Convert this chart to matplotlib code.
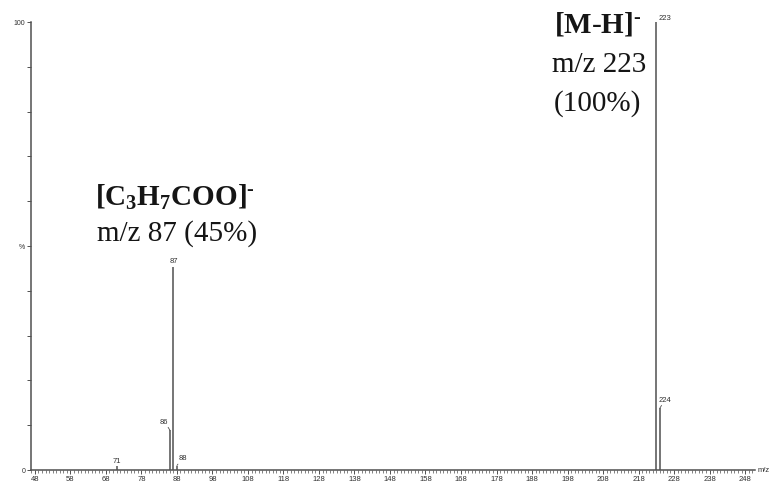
import matplotlib
matplotlib.use("Agg")
import matplotlib.pyplot as plt
from matplotlib.ticker import MultipleLocator, FixedLocator

# ---- data ----
mz = [71, 86, 87, 88, 223, 224]
intensity = [0.8, 8.9, 45.3, 1.0, 100.0, 13.8]
peak_labels = ["71", "86", "87", "88", "223", "224"]
x_ticks = [48, 58, 68, 78, 88, 98, 108, 118, 128, 138, 148, 158, 168, 178,
           188, 198, 208, 218, 228, 238, 248]
y_tick_pos = [0, 50, 100]
y_tick_labels = ["0", "%", "100"]

plt.rcParams['font.family'] = ['Liberation Sans', 'DejaVu Sans']
plt.rcParams['mathtext.fontset'] = 'custom'
plt.rcParams['mathtext.rm'] = 'Liberation Serif'
plt.rcParams['mathtext.bf'] = 'Liberation Serif:bold'
plt.rcParams['mathtext.it'] = 'Liberation Serif:italic'

fig = plt.figure(figsize=(7.7, 4.85), dpi=100)
ax = fig.add_axes([31 / 770, 14 / 485, 724 / 770, 448 / 485])

col = '#505050'
txtcol = '#303030'
ax.vlines(mz, 0, intensity, color=col, linewidth=1.1)

ax.set_xlim(46.9, 250.8)
ax.set_ylim(0, 100)

for s in ['top', 'right']:
    ax.spines[s].set_visible(False)
for s in ['left', 'bottom']:
    ax.spines[s].set_color(col)
    ax.spines[s].set_linewidth(1.1)

ax.xaxis.set_major_locator(FixedLocator(x_ticks))
ax.set_xticklabels([str(t) for t in x_ticks])
ax.xaxis.set_minor_locator(MultipleLocator(1))
ax.tick_params(axis='x', which='major', length=3, width=0.7, colors=col,
               labelsize=5.5, pad=0.8, labelcolor=txtcol)
ax.tick_params(axis='x', which='minor', length=1.8, width=0.5, colors=col)

ax.yaxis.set_major_locator(FixedLocator(y_tick_pos))
ax.set_yticklabels(y_tick_labels)
ax.yaxis.set_minor_locator(MultipleLocator(10))
ax.tick_params(axis='y', which='major', length=3, width=0.7, colors=col,
               labelsize=5, pad=1, labelcolor=txtcol)
ax.tick_params(axis='y', which='minor', length=3, width=0.7, colors=col)

ax.text(1.004, 0.0, "m/z", transform=ax.transAxes, fontsize=5.5,
        color=txtcol, ha='left', va='center')

# peak labels
lab_kw = dict(fontsize=5.5, color=txtcol, annotation_clip=False)
offsets = {
    "71": ((0, 1.5), 'center', None),
    "86": ((-4, 4), 'center', True),
    "87": ((0, 2), 'center', None),
    "88": ((4, 3), 'center', True),
    "223": ((1.5, 1), 'left', None),
    "224": ((4, 4), 'center', True),
}
for x, y, lab in zip(mz, intensity, peak_labels):
    off, ha, leader = offsets[lab]
    ap = dict(arrowstyle='-', color=col, lw=0.6, shrinkA=0, shrinkB=0) if leader else None
    ax.annotate(lab, xy=(x, y), xytext=off, textcoords='offset points',
                ha=ha, va='bottom', arrowprops=ap, **lab_kw)

# big annotations
big = '#151515'
ax.text(87.5, 61.0, r'$\mathbf{[C_3H_7COO]}^{\mathbf{\text{-}}}$', fontsize=21,
        ha='center', va='center', color=big)
ax.text(88.0, 53.0, 'm/z 87 (45%)', fontsize=21, family='Liberation Serif',
        ha='center', va='center', color=big)

ax.text(206.5, 99.6, r'$\mathbf{[M\text{-}H]}^{\mathbf{\text{-}}}$', fontsize=21,
        ha='center', va='center', color=big)
ax.text(207.0, 90.6, 'm/z 223', fontsize=21, family='Liberation Serif',
        ha='center', va='center', color=big)
ax.text(206.5, 82.0, '(100%)', fontsize=21, family='Liberation Serif',
        ha='center', va='center', color=big)

fig.savefig('out.png', dpi=100)
